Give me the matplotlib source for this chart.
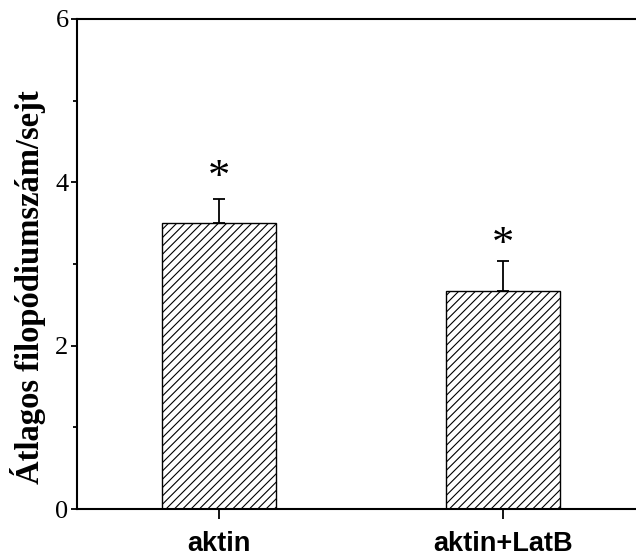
import matplotlib
matplotlib.use("Agg")
import matplotlib.pyplot as plt
from matplotlib.ticker import MultipleLocator

groups = ['aktin', 'aktin+LatB']
means = [3.50, 2.67]
errs = [0.29, 0.37]
star_y = [4.11, 3.29]

plt.rcParams['hatch.linewidth'] = 0.8

fig = plt.figure(figsize=(6.36, 5.56), dpi=100)
ax = fig.add_axes([0.121, 0.0845, 0.879, 0.8815])

x = range(len(groups))
ax.bar(x, means, width=0.4, color='white', edgecolor='black', linewidth=1.0,
       hatch='////', zorder=2)
ax.errorbar(x, means, yerr=[[0, 0], errs], fmt='none', ecolor='black',
            elinewidth=1.3, capsize=4.5, capthick=1.3, zorder=3)
for xi, sy in zip(x, star_y):
    ax.text(xi, sy, '*', ha='center', va='center_baseline', fontsize=32,
            family='Liberation Serif')

ax.set_xlim(-0.5, 1.468)
ax.set_ylim(0, 6)
ax.set_xticks(list(x))
ax.set_xticklabels(groups, fontsize=19.5, fontweight='bold', family='Liberation Sans')
ax.yaxis.set_major_locator(MultipleLocator(2))
ax.yaxis.set_minor_locator(MultipleLocator(1))
for lab in ax.get_yticklabels():
    lab.set_family('Liberation Serif')
    lab.set_fontsize(19)
ax.tick_params(axis='y', which='major', direction='out', length=4, width=1.3, pad=2)
ax.tick_params(axis='y', which='minor', direction='out', length=3, width=1.3)
ax.tick_params(axis='x', direction='out', length=7, width=1.3, pad=9)
ax.spines['right'].set_visible(False)
for s in ['left', 'top', 'bottom']:
    ax.spines[s].set_linewidth(1.5)

ax.set_ylabel('Átlagos filopódiumszám/sejt', fontsize=23.5, fontweight='bold',
              family='Liberation Serif')
ax.yaxis.set_label_coords(-0.055, 0.452)

fig.savefig('out.png', dpi=100)
